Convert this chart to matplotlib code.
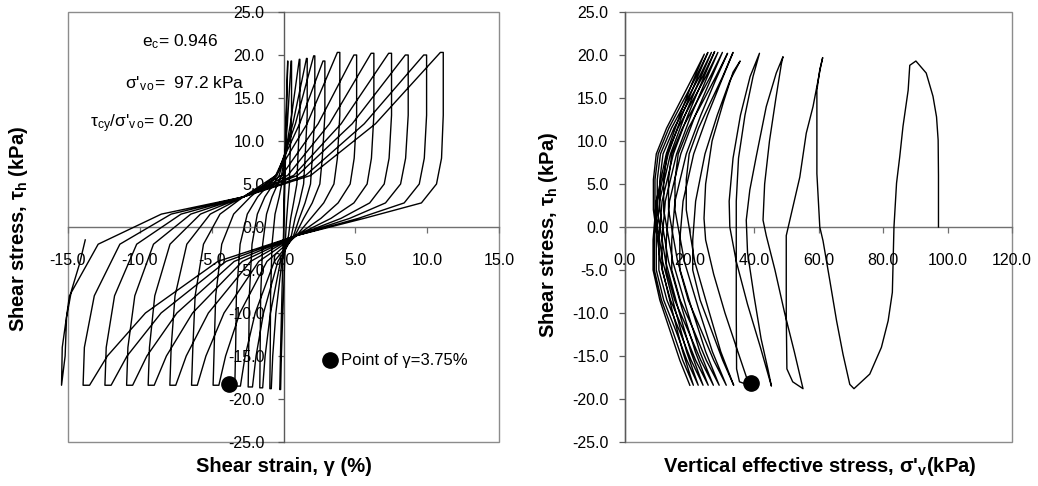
import matplotlib
matplotlib.use('Agg')
import matplotlib.pyplot as plt
from matplotlib.patches import Rectangle
from matplotlib.ticker import FormatStrFormatter
import numpy as np

plt.rcParams['font.family'] = ['Liberation Sans', 'DejaVu Sans']
plt.rcParams['mathtext.fontset'] = 'custom'
plt.rcParams['mathtext.rm'] = 'Liberation Sans'
plt.rcParams['mathtext.it'] = 'Liberation Sans:italic'
plt.rcParams['mathtext.bf'] = 'Liberation Sans:bold'
plt.rcParams['axes.unicode_minus'] = False

# ---------------- LEFT PANEL DATA: shear stress vs shear strain ----------------
gam_pos = [0.30, 0.56, 1.14, 1.65, 2.18, 2.88, 3.92, 5.09, 6.29, 7.52, 8.68, 9.96, 11.12]
tau_pos = [19.3, 19.3, 19.5, 19.6, 19.9, 19.3, 20.3, 20.0, 20.2, 20.2, 20.0, 20.0, 20.3]
gam_neg = [-0.26, -0.95, -1.65, -2.46, -3.39, -4.90, -6.40, -7.91, -9.42, -10.92, -12.43, -13.95, -15.45]
tau_neg = [-18.9, -18.8, -18.7, -18.6, -18.5, -18.4, -18.4, -18.4, -18.4, -18.4, -18.4, -18.4, -18.4]

first_load_gam = [0.0, 0.05, 0.15, 0.30]
first_load_tau = [0.0, 5.0, 12.0, 19.3]

# unloading branches: strain at [top-flat(tau_pos), 12, 6, 3.5, 1.5, -2, -8, -14]
unload_tau = [12.0, 6.0, 3.5, 1.5, -2.0, -8.0, -14.0]
unload_gam = [
    [0.29, 0.20, 0.11, 0.07, 0.04, -0.02, -0.11, -0.20],
    [0.53, 0.27, -0.01, -0.30, -0.59, -0.80, -0.90, -0.92],
    [1.10, 0.48, -0.14, -0.80, -1.18, -1.45, -1.59, -1.62],
    [1.60, 0.65, -0.30, -1.30, -1.82, -2.19, -2.38, -2.42],
    [2.10, 0.83, -0.45, -1.80, -2.52, -3.02, -3.28, -3.33],
    [2.75, 1.12, -0.54, -2.30, -3.47, -4.30, -4.72, -4.82],
    [3.75, 1.64, -0.52, -2.80, -4.42, -5.57, -6.15, -6.31],
    [4.90, 2.41, -0.12, -2.80, -5.10, -6.73, -7.55, -7.82],
    [6.10, 3.20, 0.29, -2.80, -5.78, -7.90, -8.96, -9.33],
    [7.32, 4.01, 0.71, -2.80, -6.45, -9.05, -10.35, -10.83],
    [8.48, 4.78, 0.98, -2.80, -7.13, -10.22, -11.76, -12.34],
    [9.76, 5.62, 1.54, -2.80, -7.82, -11.39, -13.17, -13.86],
    [10.92, 6.40, 1.90, -2.80, -8.50, -12.90, -14.90, -15.40],
]

# loading branches 2..13: strain at [bottom-flat(tau_neg), -15, -10, -4, -1, 1, 2.8, 5, 8]
load_tau = [-15.0, -10.0, -4.0, -1.0, 1.0, 2.8, 5.0, 8.0]
load_gam = [
    [-0.20, -0.15, -0.05, 0.08, 0.15, 0.22, 0.30, 0.41, 0.45],
    [-0.85, -0.75, -0.53, -0.11, 0.35, 0.50, 0.70, 0.93, 1.00],
    [-1.45, -1.28, -0.91, -0.21, 0.55, 0.80, 1.10, 1.40, 1.50],
    [-2.16, -1.91, -1.39, -0.39, 0.70, 1.10, 1.50, 1.88, 2.00],
    [-3.00, -2.67, -1.97, -0.64, 0.80, 1.40, 2.00, 2.53, 2.70],
    [-4.50, -4.03, -3.04, -1.15, 0.90, 1.90, 2.80, 3.51, 3.75],
    [-6.00, -5.40, -4.14, -1.72, 0.90, 2.60, 3.80, 4.64, 4.92],
    [-7.50, -6.77, -5.23, -2.29, 0.90, 3.30, 4.90, 5.82, 6.12],
    [-9.00, -8.15, -6.33, -2.86, 0.90, 4.00, 6.00, 7.01, 7.35],
    [-10.50, -9.51, -7.42, -3.43, 0.90, 4.60, 7.10, 8.15, 8.50],
    [-12.00, -10.89, -8.52, -4.00, 0.90, 5.20, 8.40, 9.45, 9.80],
    [-13.50, -12.26, -9.61, -4.57, 0.90, 5.60, 9.60, 10.65, 11.00],
]

release_gam = [-15.45, -15.2, -15.1, -14.76, -14.2, -13.8]
release_tau = [-18.4, -15.0, -10.5, -7.4, -4.3, -1.5]

dot_left = (-3.8, -18.2)
legend_dot = (3.23, -15.5)

# ---------------- RIGHT PANEL DATA: stress path ----------------
sv_pos = [90.2, 61.3, 49.0, 41.7, 35.7, 33.5, 31.8, 30.2, 28.8, 27.8, 26.8, 25.7, 24.6]
sv_neg = [71.0, 55.2, 45.4, 38.5, 33.7, 31.4, 29.2, 27.4, 25.8, 24.2, 22.7, 21.2, 20.1]
sv_tau_pos = [19.3, 19.7, 19.8, 20.2, 19.3, 20.3, 20.2, 20.3, 20.3, 20.4, 20.3, 20.3, 20.1]
sv_tau_neg = [-18.8, -18.8, -18.5, -18.4, -18.4, -18.4, -18.4, -18.4, -18.4, -18.4, -18.4, -18.4, -18.4]

early_paths_sv = [
    [97.2, 97.2, 97.1, 96.6, 95.5, 93.4, 90.2],
    [90.2, 88.3, 87.8, 86.2, 85.2, 84.2, 83.4, 82.9, 81.6, 79.5, 75.9, 71.0],
    [71.0, 69.7, 67.6, 65.6, 63.5, 61.4, 60.4, 59.5, 59.5, 60.4, 61.3],
    [61.3, 60.6, 58.3, 56.2, 54.2, 51.1, 50.0, 50.0, 50.2, 52.0, 55.2],
    [55.2, 52.5, 49.5, 46.5, 43.8, 42.8, 43.3, 44.8, 46.8, 48.5, 49.0],
    [49.0, 46.9, 43.8, 40.7, 38.7, 37.6, 38.0, 40.0, 42.2, 44.3, 45.4],
    [45.4, 42.0, 38.0, 34.5, 32.5, 32.3, 33.5, 35.8, 38.8, 41.7],
    [41.7, 39.7, 37.2, 35.2, 34.5, 34.5, 34.5, 34.6, 35.5, 38.5],
    [38.5, 35.0, 31.0, 27.5, 25.0, 24.5, 25.0, 27.0, 30.5, 33.5, 35.7],
]
early_paths_tau = [
    [0.0, 6.0, 10.1, 12.8, 15.2, 17.9, 19.3],
    [19.3, 18.8, 15.9, 11.7, 8.2, 5.1, 0.0, -7.6, -10.9, -14.0, -17.1, -18.8],
    [-18.8, -18.3, -14.8, -10.9, -6.2, -1.6, 0.0, 6.2, 15.9, 18.3, 19.7],
    [19.7, 18.5, 14.0, 10.9, 5.8, 0.8, -1.0, -10.0, -16.5, -18.0, -18.8],
    [-18.8, -14.5, -10.0, -5.0, -1.0, 0.8, 5.0, 10.0, 15.0, 19.0, 19.8],
    [19.8, 17.9, 14.0, 8.2, 4.3, 0.8, -3.0, -8.0, -13.0, -16.5, -18.5],
    [-18.5, -14.0, -9.0, -4.0, 0.0, 3.0, 8.0, 13.0, 17.5, 20.2],
    [20.2, 17.5, 13.0, 8.0, 3.0, -2.0, -10.0, -16.5, -18.0, -18.4],
    [-18.4, -14.5, -10.0, -5.5, -1.5, 1.0, 5.0, 10.0, 14.5, 18.0, 19.3],
]

# later cycles 5..13, tau levels listed from top to bottom
unload_levels = [17.0, 13.0, 8.5, 3.0, -1.5, -5.0, -8.5, -12.0, -15.5]
load_levels = [17.5, 14.5, 11.5, 8.5, 5.5, 2.0, -4.0, -9.5, -14.5]
cyc_unload_sv = [
    [32.5, 28.6, 24.8, 21.9, 21.0, 21.0, 23.3, 26.8, 30.3],
    [29.9, 25.6, 21.3, 18.0, 17.0, 17.0, 19.6, 23.6, 27.5],
    [28.0, 23.5, 19.0, 15.5, 14.5, 14.5, 17.1, 21.3, 25.2],
    [26.4, 21.8, 17.3, 13.8, 12.8, 12.8, 15.4, 19.5, 23.5],
    [25.0, 20.5, 16.0, 12.5, 11.5, 11.5, 14.1, 18.1, 21.9],
    [24.0, 19.5, 15.0, 11.5, 10.5, 10.5, 13.0, 16.8, 20.5],
    [23.0, 18.6, 14.1, 10.7, 9.7, 9.7, 12.0, 15.7, 19.2],
    [22.0, 17.7, 13.4, 10.1, 9.1, 9.1, 11.3, 14.7, 17.9],
    [21.1, 17.0, 12.8, 9.7, 8.7, 8.7, 10.8, 13.9, 17.0],
]
cyc_load_sv = [
    [30.3, 26.5, 22.8, 19.9, 19.0, 19.0, 21.6, 25.8, 29.7],
    [28.2, 24.0, 19.7, 16.5, 15.5, 15.5, 18.4, 22.8, 27.1],
    [26.5, 22.2, 17.8, 14.5, 13.5, 13.5, 16.3, 20.7, 25.0],
    [25.1, 20.7, 16.4, 13.0, 12.0, 12.0, 14.8, 19.1, 23.2],
    [24.1, 19.6, 15.2, 11.8, 10.8, 10.8, 13.5, 17.7, 21.8],
    [23.1, 18.7, 14.4, 11.0, 10.0, 10.0, 12.6, 16.5, 20.4],
    [22.1, 17.8, 13.6, 10.3, 9.3, 9.3, 11.7, 15.5, 19.1],
    [21.1, 17.0, 12.9, 9.7, 8.8, 8.8, 11.0, 14.5, 17.9],
]

dot_right = (39.0, -18.1)

# ---------------- build left path ----------------
Lg, Lt = list(first_load_gam), list(first_load_tau)
for k in range(13):
    row = unload_gam[k]
    Lg += row + [gam_neg[k]]
    Lt += [tau_pos[k]] + unload_tau + [tau_neg[k]]
    if k < 12:
        r = load_gam[k]
        Lg += r + [gam_pos[k + 1], gam_pos[k + 1]]
        Lt += [tau_neg[k]] + load_tau + [13.0, tau_pos[k + 1]]
Lg += release_gam
Lt += release_tau

# ---------------- build right path ----------------
Rs, Rt = [], []
for s, t in zip(early_paths_sv, early_paths_tau):
    Rs += s
    Rt += t
for j in range(9):
    k = 4 + j
    Rs += [sv_pos[k]] + cyc_unload_sv[j] + [sv_neg[k]]
    Rt += [sv_tau_pos[k]] + unload_levels + [sv_tau_neg[k]]
    if j < 8:
        Rs += cyc_load_sv[j][::-1] + [sv_pos[k + 1]]
        Rt += load_levels[::-1] + [sv_tau_pos[k + 1]]

# ---------------- figure ----------------
W, H = 1038, 486
fig = plt.figure(figsize=(W / 100, H / 100), dpi=100)
axL = fig.add_axes([68 / W, 1 - 442 / H, 431 / W, 430 / H])
axR = fig.add_axes([625 / W, 1 - 442 / H, 387 / W, 430 / H])


def style(ax, xlim, xticks, ypad):
    ax.set_xlim(*xlim)
    ax.set_ylim(-25, 25)
    for s in ['top', 'right']:
        ax.spines[s].set_visible(False)
    ax.spines['left'].set_position(('data', 0))
    ax.spines['bottom'].set_position(('data', 0))
    ax.spines['left'].set_color('#5a5a5a')
    ax.spines['bottom'].set_color('#707070')
    ax.spines['left'].set_linewidth(1.0)
    ax.spines['bottom'].set_linewidth(1.0)
    ax.add_patch(Rectangle((0, 0), 1, 1, transform=ax.transAxes, fill=False,
                           edgecolor='#8c8c8c', lw=1.0, clip_on=False, zorder=0.5))
    ax.set_xticks(xticks)
    ax.set_yticks(np.arange(-25, 26, 5))
    ax.xaxis.set_major_formatter(FormatStrFormatter('%.1f'))
    ax.yaxis.set_major_formatter(FormatStrFormatter('%.1f'))
    ax.tick_params(axis='x', direction='out', length=4, width=0.9, color='#707070',
                   labelsize=11.5, pad=15)
    ax.tick_params(axis='y', direction='out', length=4, width=0.9, color='#5a5a5a',
                   labelsize=11.5, pad=ypad)
    ax.patch.set_visible(False)


style(axL, (-15, 15), np.arange(-15, 16, 5), 9.5)
style(axR, (0, 120), np.arange(0, 121, 20), 8.0)

axL.plot(Lg, Lt, color='black', lw=1.0, clip_on=False, zorder=3)
axL.plot(*dot_left, 'o', color='black', ms=11, zorder=4, clip_on=False)
axL.plot(*legend_dot, 'o', color='black', ms=11, zorder=4)
axL.text(legend_dot[0] + 0.8, legend_dot[1], 'Point of γ=3.75%', fontsize=12,
         va='center', ha='left')

axL.text(-9.88, 21.6, r'e$_\mathregular{c}$= 0.946', fontsize=12.5, va='center', ha='left')
axL.text(-11.04, 16.7, r"σ'$_\mathregular{v\,o}$=  97.2 kPa", fontsize=12.5, va='center', ha='left')
axL.text(-13.48, 12.05, r"τ$_\mathregular{cy}$/σ'$_\mathregular{v\,o}$= 0.20", fontsize=12.5,
         va='center', ha='left')

axR.plot(Rs, Rt, color='black', lw=1.0, clip_on=False, zorder=3)
axR.plot(*dot_right, 'o', color='black', ms=11, zorder=4)

# axis titles
fig.text(284 / W, 1 - 466 / H, r'Shear strain, γ (%)', fontsize=14.5, fontweight='bold',
         ha='center', va='center')
fig.text(820 / W, 1 - 466 / H, r"Vertical effective stress, σ'$_\mathregular{v}$(kPa)", fontsize=14.5,
         fontweight='bold', ha='center', va='center')
fig.text(19 / W, 1 - 229 / H, r'Shear stress, τ$_\mathregular{h}$ (kPa)', fontsize=14.5,
         fontweight='bold', ha='center', va='center', rotation=90)
fig.text(549 / W, 1 - 235 / H, r'Shear stress, τ$_\mathregular{h}$ (kPa)', fontsize=14.5,
         fontweight='bold', ha='center', va='center', rotation=90)

fig.savefig('out.png', dpi=100, facecolor='white')
